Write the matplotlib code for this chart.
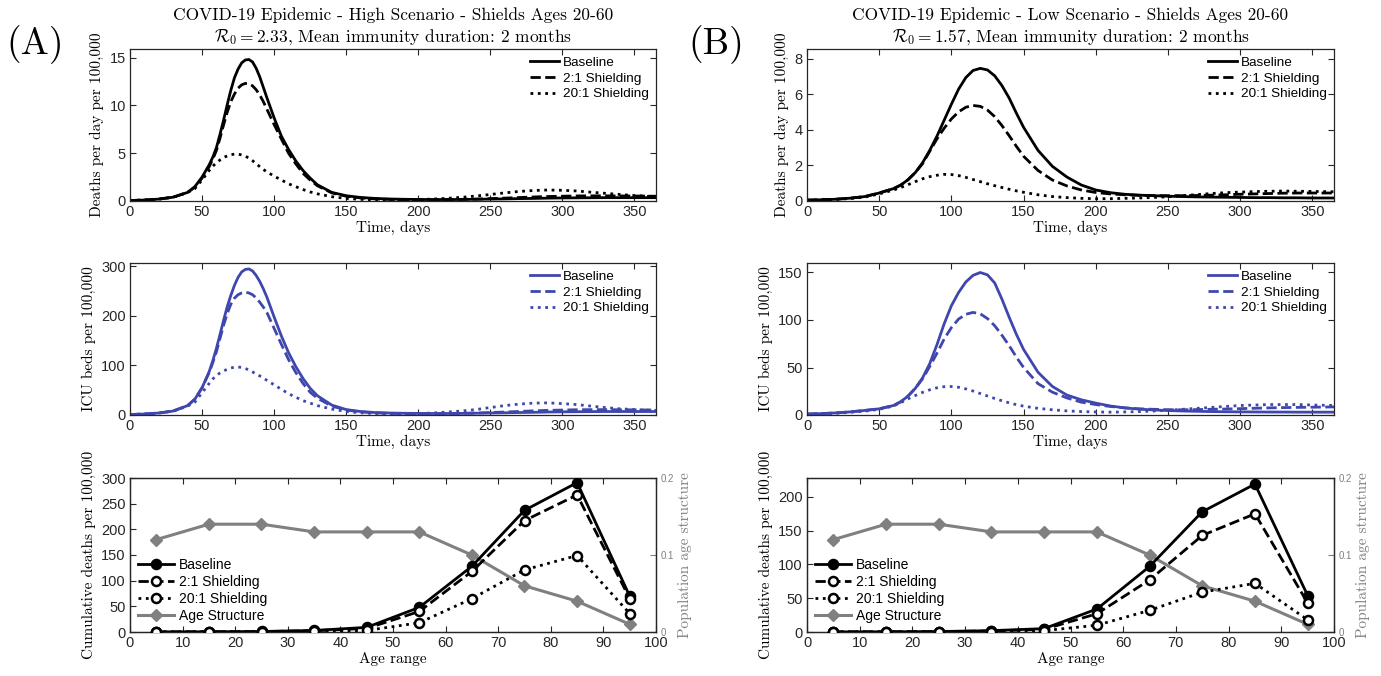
import matplotlib
matplotlib.use("Agg")
import matplotlib.pyplot as plt

plt.rcParams['mathtext.fontset'] = 'cm'
plt.rcParams['font.family'] = ['Liberation Sans', 'DejaVu Sans']

# ---------------- data ----------------
t_high = [0, 10, 20, 30, 40, 45, 50, 55, 57.5, 60, 62.5, 65, 67.5, 70, 72.5, 75, 77.5, 80, 82.5, 85, 87.5,
          90, 92.5, 95, 100, 105, 110, 115, 120, 125, 130, 140, 150, 160, 170, 180, 190, 200, 210, 220,
          230, 240, 250, 260, 270, 280, 290, 300, 310, 320, 330, 340, 350, 365]
t_low = [0, 10, 20, 30, 40, 50, 60, 65, 70, 75, 80, 85, 90, 95, 100, 105, 110, 115, 120, 125, 130, 135,
         140, 145, 150, 160, 170, 180, 190, 200, 210, 220, 230, 240, 250, 260, 270, 280, 290, 300, 310,
         320, 330, 340, 350, 365]

deaths_high_base = [0.05, 0.1, 0.2, 0.4, 0.9, 1.5, 2.5, 3.8, 4.6, 5.6, 7.0, 8.5, 10.1, 11.6, 12.9, 13.8,
                    14.45, 14.75, 14.8, 14.55, 13.9, 13.0, 11.9, 10.8, 8.7, 6.8, 5.4, 4.2, 3.2, 2.4, 1.7,
                    0.9, 0.55, 0.37, 0.27, 0.21, 0.18, 0.16, 0.15, 0.15, 0.16, 0.18, 0.2, 0.22, 0.25, 0.27,
                    0.3, 0.32, 0.33, 0.34, 0.35, 0.35, 0.35, 0.35]
deaths_high_2to1 = [0.05, 0.1, 0.2, 0.4, 0.9, 1.45, 2.4, 3.6, 4.4, 5.3, 6.6, 8.0, 9.3, 10.4, 11.2, 11.8,
                    12.15, 12.3, 12.25, 12.05, 11.65, 11.1, 10.4, 9.6, 8.0, 6.5, 5.0, 3.9, 2.9, 2.2, 1.6,
                    0.85, 0.5, 0.32, 0.22, 0.17, 0.14, 0.13, 0.13, 0.15, 0.17, 0.2, 0.25, 0.3, 0.36, 0.42,
                    0.47, 0.5, 0.53, 0.54, 0.54, 0.53, 0.52, 0.5]
deaths_high_20to1 = [0.05, 0.1, 0.2, 0.4, 0.9, 1.3, 2.2, 3.2, 3.65, 4.0, 4.3, 4.55, 4.72, 4.85, 4.9, 4.9,
                     4.82, 4.7, 4.48, 4.22, 3.9, 3.6, 3.3, 3.05, 2.6, 2.2, 1.8, 1.5, 1.2, 0.95, 0.75, 0.45,
                     0.27, 0.17, 0.13, 0.12, 0.12, 0.15, 0.2, 0.28, 0.38, 0.52, 0.68, 0.85, 1.0, 1.1, 1.15,
                     1.12, 1.05, 0.92, 0.8, 0.68, 0.57, 0.45]

icu_high_base = [1, 2, 4, 8, 19, 32, 55, 88, 110, 135, 163, 192, 219, 242, 262, 278, 289, 294, 295, 291,
                 282, 270, 255, 238, 198, 160, 126, 98, 74, 54, 39, 20, 11, 7, 5, 4, 3.5, 3.2, 3, 3, 3.2,
                 3.6, 4, 4.4, 5, 5.4, 6, 6.4, 6.6, 6.8, 7, 7, 7, 7]
icu_high_2to1 = [1, 2, 4, 8, 19, 32, 55, 86, 106, 128, 155, 182, 205, 224, 236, 243, 246.5, 248, 246.5,
                 243, 236.5, 228, 218, 207, 175, 143, 112, 86, 64, 46, 34, 18, 10, 6.4, 4.4, 3.4, 2.8,
                 2.6, 2.6, 3, 3.4, 4, 5, 6, 7.2, 8.4, 9.4, 10, 10.6, 10.8, 10.8, 10.6, 10.4, 10]
icu_high_20to1 = [1, 2, 4, 8, 18, 26, 45, 64, 73, 80, 85, 89, 92.5, 95, 96.5, 97, 96, 94, 91, 87, 83, 79,
                  74.5, 70, 61, 52, 43, 36, 29, 24, 19, 12, 7, 4.5, 3, 2.5, 2.5, 3, 4, 6, 8, 11, 15, 19,
                  22, 24, 24.5, 23, 21, 18, 15, 12.5, 11, 9]

deaths_low_base = [0.05, 0.07, 0.1, 0.16, 0.25, 0.45, 0.7, 0.9, 1.2, 1.6, 2.15, 2.85, 3.65, 4.55, 5.45,
                   6.3, 6.95, 7.35, 7.47, 7.38, 7.05, 6.5, 5.8, 4.95, 4.15, 2.85, 1.95, 1.35, 0.9, 0.62,
                   0.47, 0.38, 0.33, 0.3, 0.27, 0.25, 0.23, 0.22, 0.21, 0.2, 0.19, 0.19, 0.18, 0.18, 0.17,
                   0.17]
deaths_low_2to1 = [0.05, 0.07, 0.1, 0.16, 0.25, 0.45, 0.7, 0.9, 1.2, 1.6, 2.1, 2.8, 3.5, 4.1, 4.62, 5.02,
                   5.28, 5.38, 5.33, 5.12, 4.75, 4.25, 3.68, 3.08, 2.52, 1.72, 1.18, 0.85, 0.62, 0.48, 0.4,
                   0.35, 0.32, 0.3, 0.3, 0.3, 0.31, 0.33, 0.35, 0.38, 0.4, 0.42, 0.44, 0.45, 0.45, 0.45]
deaths_low_20to1 = [0.04, 0.06, 0.09, 0.14, 0.22, 0.4, 0.62, 0.76, 0.92, 1.09, 1.25, 1.37, 1.45, 1.5,
                    1.49, 1.43, 1.33, 1.21, 1.09, 0.97, 0.86, 0.76, 0.66, 0.57, 0.49, 0.35, 0.25, 0.19,
                    0.15, 0.13, 0.13, 0.15, 0.17, 0.2, 0.24, 0.3, 0.36, 0.42, 0.47, 0.5, 0.53, 0.55, 0.56,
                    0.55, 0.54, 0.52]

icu_low_base = [1, 1.5, 2.2, 3.3, 4.8, 6.5, 10, 14, 20, 28, 39, 54, 74, 96, 115, 129, 140, 147, 150, 147.5,
                139, 122, 103, 85, 69, 45, 30, 21, 16, 12.5, 9.5, 7.5, 6.2, 5.3, 4.7, 4.2, 3.9, 3.6, 3.4,
                3.3, 3.2, 3.1, 3.1, 3, 3, 3]
icu_low_2to1 = [1, 1.5, 2.2, 3.3, 4.8, 6.5, 10, 14, 20, 28, 38, 51, 65, 80, 92, 101, 106, 108, 106.5,
                101.5, 94, 84, 73, 61, 50, 33, 24, 18, 13.5, 11, 9, 7.5, 6.5, 6, 5.6, 5.5, 5.7, 6, 6.3,
                6.7, 7.1, 7.5, 7.8, 8, 8.2, 8.5]
icu_low_20to1 = [0.8, 1.2, 1.8, 2.8, 4, 6, 9.5, 13, 17, 20.5, 23.8, 26.5, 28.6, 29.8, 30, 29.2, 27.5, 25.2,
                 22.6, 20, 17.4, 15, 12.8, 10.9, 9.3, 7, 5.5, 4.3, 3.6, 3.2, 3, 3.2, 3.6, 4.2, 5, 6, 7, 8,
                 9, 10, 10.5, 11, 11, 11, 10.5, 10]

age_mid = [5, 15, 25, 35, 45, 55, 65, 75, 85, 95]
cum_high_base = [0.3, 0.5, 1, 3, 9, 48, 128, 237, 291, 70]
cum_high_2to1 = [0.2, 0.4, 0.8, 2.5, 7, 40, 118, 217, 267, 65]
cum_high_20to1 = [0.1, 0.2, 0.4, 1, 3, 18, 65, 121, 149, 36]
cum_low_base = [0.2, 0.3, 0.7, 2, 5, 34, 97, 178, 219, 54]
cum_low_2to1 = [0.2, 0.3, 0.6, 1.5, 4, 27, 77, 143, 175, 43]
cum_low_20to1 = [0.1, 0.1, 0.2, 0.5, 2, 10, 32, 59, 72, 18]
age_structure = [0.12, 0.14, 0.14, 0.13, 0.13, 0.13, 0.10, 0.06, 0.04, 0.01]

series_labels = ['Baseline', '2:1 Shielding', '20:1 Shielding']
age_label = 'Age Structure'
titles1 = ['COVID-19 Epidemic - High Scenario - Shields Ages 20-60',
           'COVID-19 Epidemic - Low Scenario - Shields Ages 20-60']
titles2 = [r'$\mathcal{R}_0 = 2.33$, Mean immunity duration: 2 months',
           r'$\mathcal{R}_0 = 1.57$, Mean immunity duration: 2 months']
panel_tags = ['(A)', '(B)']

# ---------------- style ----------------
W, H = 1381, 676
fig = plt.figure(figsize=(W / 100, H / 100), dpi=100)
BLUE = '#3F47AE'
GRAY = '#808080'
AXC = '#262626'
SERIF = 'cmr10'
styles = ['-', '--', ':']


def rect(x0, y0, x1, y1):
    return [x0 / W, 1 - y1 / H, (x1 - x0) / W, (y1 - y0) / H]


def style_ax(ax, right=True):
    for s in ax.spines.values():
        s.set_color(AXC)
        s.set_linewidth(0.9)
    ax.tick_params(direction='in', top=True, right=right, length=4, width=0.8,
                   colors=AXC, labelsize=10.5, pad=3)


def time_panel(rc, t, ys, color, ylim, yticks, ylabel):
    ax = fig.add_axes(rc)
    for y, ls, lab in zip(ys, styles, series_labels):
        ax.plot(t, y, ls, color=color, lw=2, label=lab, solid_joinstyle='round')
    ax.set_xlim(0, 365)
    ax.set_xticks(range(0, 351, 50))
    ax.set_ylim(*ylim)
    ax.set_yticks(yticks)
    style_ax(ax)
    ax.set_xlabel('Time, days', fontfamily=SERIF, fontsize=11, labelpad=1)
    ax.set_ylabel(ylabel, fontfamily=SERIF, fontsize=11, labelpad=4)
    ax.legend(loc='upper right', frameon=False, fontsize=9.7, handlelength=2.1,
              handletextpad=0.3, labelspacing=0.25, borderaxespad=0.15)
    return ax


def age_panel(rc, cums, ylim, yticks):
    ax = fig.add_axes(rc)
    handles = []
    for y, ls, lab, i in zip(cums, styles, series_labels, range(3)):
        h, = ax.plot(age_mid, y, ls, color='k', lw=2, marker='o', ms=6.5, mew=1.8,
                     mfc='k' if i == 0 else 'white', mec='k', label=lab, zorder=3)
        handles.append(h)
    ax.set_xlim(0, 100)
    ax.set_xticks(range(0, 101, 10))
    ax.set_ylim(*ylim)
    ax.set_yticks(yticks)
    style_ax(ax, right=False)
    ax.set_xlabel('Age range', fontfamily=SERIF, fontsize=11, labelpad=1)
    ax.set_ylabel('Cumulative deaths per 100,000', fontfamily=SERIF, fontsize=11, labelpad=4)
    ax2 = ax.twinx()
    h2, = ax2.plot(age_mid, age_structure, '-', color=GRAY, lw=2.2, marker='D', ms=6,
                   mfc=GRAY, mec=GRAY, label=age_label, zorder=2)
    handles.append(h2)
    ax2.set_ylim(0, 0.2)
    ax2.set_yticks([0, 0.1, 0.2])
    ax2.set_yticklabels(['0', '0.1', '0.2'])
    ax2.tick_params(direction='in', length=4, width=0.8, colors=GRAY, labelsize=7, pad=3)
    for s in ax2.spines.values():
        s.set_color(AXC)
        s.set_linewidth(0.9)
    ax2.set_ylabel('Population age structure', fontfamily=SERIF, fontsize=11, color=GRAY, labelpad=3)
    ax.set_zorder(ax2.get_zorder() + 1)
    ax.patch.set_visible(False)
    ax.legend(handles=handles, loc='center left', bbox_to_anchor=(0.0, 0.27), frameon=False,
              fontsize=10, handlelength=2.6, handletextpad=0.3, labelspacing=0.2, borderaxespad=0.2)
    return ax


cols = [(130, 656), (807, 1334)]
rows = [(49, 201), (263, 415), (478, 632)]

death_sets = [(t_high, [deaths_high_base, deaths_high_2to1, deaths_high_20to1], (0, 15.9), [0, 5, 10, 15]),
              (t_low, [deaths_low_base, deaths_low_2to1, deaths_low_20to1], (0, 8.56), [0, 2, 4, 6, 8])]
icu_sets = [(t_high, [icu_high_base, icu_high_2to1, icu_high_20to1], (0, 307), [0, 100, 200, 300]),
            (t_low, [icu_low_base, icu_low_2to1, icu_low_20to1], (0, 160), [0, 50, 100, 150])]
cum_sets = [([cum_high_base, cum_high_2to1, cum_high_20to1], (0, 300), [0, 50, 100, 150, 200, 250, 300]),
            ([cum_low_base, cum_low_2to1, cum_low_20to1], (0, 228), [0, 50, 100, 150, 200])]

for c in range(2):
    x0, x1 = cols[c]
    t, ys, yl, yt = death_sets[c]
    time_panel(rect(x0, rows[0][0], x1, rows[0][1]), t, ys, 'k', yl, yt, 'Deaths per day per 100,000')
    t, ys, yl, yt = icu_sets[c]
    time_panel(rect(x0, rows[1][0], x1, rows[1][1]), t, ys, BLUE, yl, yt, 'ICU beds per 100,000')
    cs, yl, yt = cum_sets[c]
    age_panel(rect(x0, rows[2][0], x1, rows[2][1]), cs, yl, yt)
    xc = (x0 + x1) / 2 / W
    fig.text(xc, 1 - 15 / H, titles1[c], ha='center', va='center', fontfamily=SERIF, fontsize=12.5)
    fig.text(xc, 1 - 37 / H, titles2[c], ha='center', va='center', fontfamily=SERIF, fontsize=12.5)

fig.text(35 / W, 1 - 45 / H, panel_tags[0], ha='center', va='center', fontfamily=SERIF, fontsize=27)
fig.text(716 / W, 1 - 45 / H, panel_tags[1], ha='center', va='center', fontfamily=SERIF, fontsize=27)

fig.savefig('out.png', dpi=100)
